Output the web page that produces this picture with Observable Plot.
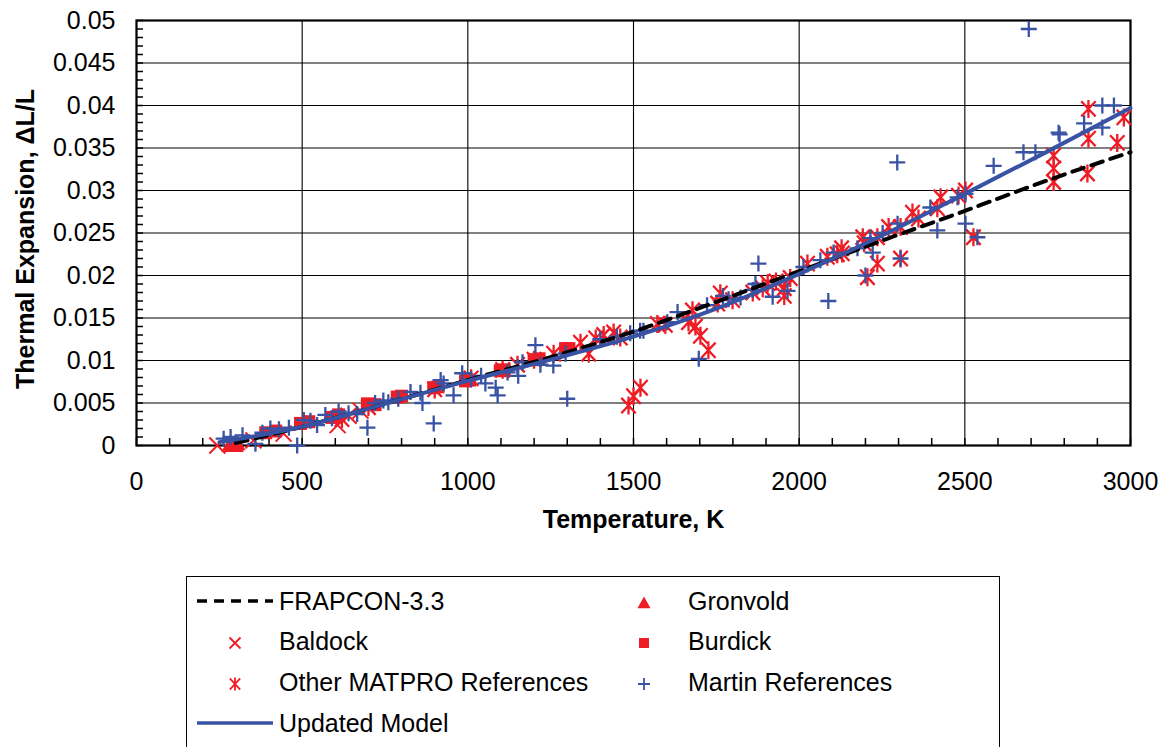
<!DOCTYPE html>
<html><head><meta charset="utf-8">
<script src="https://cdn.jsdelivr.net/npm/d3@7"></script>
<script src="https://cdn.jsdelivr.net/npm/@observablehq/plot@0.6"></script>
<style>
body{margin:0;background:#fff;}
#chart{position:relative;width:1169px;height:747px;overflow:hidden;background:#fff;}
#legend{position:absolute;left:186px;top:576px;width:814px;height:190px;border:1.5px solid #000;box-sizing:border-box;background:#fff;}
</style></head><body><div id="chart"><div id="plot"></div><div id="legend"></div></div>
<script>
// ---------- data ----------
const xTickValues = [0, 500, 1000, 1500, 2000, 2500, 3000];
const yTickValues = [0, 0.005, 0.01, 0.015, 0.02, 0.025, 0.03, 0.035, 0.04, 0.045, 0.05];
const xTitle = "Temperature, K";
const yTitle = "Thermal Expansion, \u0394L/L";

const seriesNames = ["FRAPCON-3.3", "Baldock", "Other MATPRO References", "Updated Model", "Gronvold", "Burdick", "Martin References"];

// FRAPCON-3.3 model [T, dL/L]
const frapcon = [[300,0.0003],[500,0.0022],[750,0.0049],[1000,0.0077],[1250,0.0104],[1500,0.0134],[1750,0.0169],[2000,0.0205],[2250,0.0241],[2500,0.0276],[2750,0.0312],[3000,0.0345]];
// Updated model [T, dL/L]
const updated = [[250,0.0004],[500,0.0022],[750,0.0049],[1000,0.0076],[1250,0.0101],[1500,0.0128],[1750,0.0161],[2000,0.0202],[2250,0.0247],[2500,0.0296],[2750,0.0346],[3000,0.0397]];

const baldock = [[244,0.0000],[353,0.0006],[444,0.0014],[607,0.0024],[640,0.0035],[676,0.0041]];

const otherMatpro = [[620,0.0031],[700,0.0045],[900,0.0066],[1010,0.0079],[1105,0.0089],[1150,0.0095],[1200,0.0101],[1259,0.0108],[1340,0.0121],[1365,0.0108],[1386,0.0126],[1410,0.0130],[1440,0.0133],[1460,0.0127],[1485,0.0047],[1500,0.0058],[1521,0.0068],
[1572,0.0143],[1596,0.0142],[1666,0.0145],[1687,0.0140],[1678,0.0159],[1702,0.0129],[1726,0.0112],[1754,0.0167],[1762,0.0179],[1799,0.0171],[1860,0.0180],[1890,0.0185],[1905,0.0191],[1930,0.0193],[1955,0.0185],[1955,0.0176],[1973,0.0197],[2025,0.0214],[2085,0.0222],[2115,0.0225],[2128,0.0232],[2130,0.0226],[2192,0.0245],[2196,0.0238],[2236,0.0214],[2236,0.0245],[2206,0.0198],[2270,0.0257],[2306,0.0257],[2306,0.0220],[2342,0.0274],[2360,0.0267],[2417,0.0279],[2427,0.0292],[2481,0.0294],[2502,0.0300],[2526,0.0245],
[2768,0.0341],[2768,0.0326],[2768,0.0310],[2870,0.0320],[2873,0.0396],[2873,0.0361],[2960,0.0356],[2980,0.0386]];

const gronvold = [[280,0.0000],[293,0.0001],[300,0.0000],[305,0.0002]];

const burdick = [[300,0.0002],[390,0.0015],[420,0.0017],[495,0.0026],[520,0.0028],[590,0.0033],[610,0.0036],[697,0.0049],[720,0.0048],[787,0.0057],[800,0.0058],[897,0.0068],[910,0.0069],[993,0.0076],[1005,0.0077],[1098,0.0088],[1110,0.0089],[1200,0.0101],[1215,0.0102],[1295,0.0114],[1305,0.0114]];

const martin = [[263,0.0008],[284,0.0010],[320,0.0012],[359,0.0002],[380,0.0015],[404,0.0020],[430,0.0019],[460,0.0021],[485,0.0000],[505,0.0030],[525,0.0029],[545,0.0024],[570,0.0036],[590,0.0032],[610,0.0040],[640,0.0038],[666,0.0037],[697,0.0021],[720,0.0050],[745,0.0053],[760,0.0051],[790,0.0055],[827,0.0063],[857,0.0062],[863,0.0050],[897,0.0026],[918,0.0077],[927,0.0073],[957,0.0059],[983,0.0085],[1010,0.0078],[1040,0.0082],[1053,0.0073],[1084,0.0068],[1090,0.0059],[1120,0.0086],[1150,0.0092],[1152,0.0082],[1165,0.0098],[1204,0.0118],[1219,0.0095],[1258,0.0094],[1295,0.0108],[1300,0.0055],[1400,0.0125],[1450,0.0128],[1490,0.0132],[1520,0.0135],
[1530,0.0135],[1602,0.0145],[1633,0.0157],[1697,0.0102],[1722,0.0165],[1770,0.0176],[1787,0.0172],[1823,0.0174],[1868,0.0190],[1860,0.0183],[1877,0.0214],[1920,0.0175],[1965,0.0182],[2013,0.0210],[2064,0.0218],[2088,0.0170],[2104,0.0227],[2176,0.0232],[2215,0.0244],[2222,0.0227],[2200,0.0200],[2252,0.0250],[2297,0.0261],[2306,0.0220],[2296,0.0333],[2396,0.0280],[2417,0.0253],[2478,0.0292],[2502,0.0296],[2502,0.0261],[2538,0.0245],[2587,0.0329],[2677,0.0345],[2713,0.0345],[2693,0.0490],[2783,0.0368],[2786,0.0366],[2860,0.0379],[2915,0.0400],[2950,0.0400],[2915,0.0374]];

// ---------- style ----------
const RED = "#ee1c25", BLUE = "#3953a4";
const FONT = '"Liberation Sans", Arial, sans-serif';
const FS = 25;

// custom symbols (r = half-size)
const R = s => Math.sqrt(s / Math.PI);
const symPlus = {draw(c, s){const r=R(s); c.moveTo(-r,0); c.lineTo(r,0); c.moveTo(0,-r); c.lineTo(0,r);}};
const symTimes = {draw(c, s){const r=R(s); c.moveTo(-r,-r); c.lineTo(r,r); c.moveTo(-r,r); c.lineTo(r,-r);}};
const symAst = {draw(c, s){const r=R(s), a=r*0.8; c.moveTo(0,-r); c.lineTo(0,r); c.moveTo(-a,-r*0.85); c.lineTo(a,r*0.85); c.moveTo(-a,r*0.85); c.lineTo(a,-r*0.85);}};
const symSquare = {draw(c, s){const r=R(s); c.rect(-r,-r,2*r,2*r);}};
const symTri = {draw(c, s){const r=R(s); c.moveTo(0,-r); c.lineTo(r,r*0.8); c.lineTo(-r,r*0.8); c.closePath();}};

const W = 1169, H = 560, ML = 136, MR = 39, MT = 20, MB = H - 445;
const innerW = W - ML - MR, innerH = H - MT - MB;
const xMinor = d3.range(0, 3001, 100);
const yMinor = d3.range(0, 51).map(i => i / 1000);

const plot = Plot.plot({
  width: W, height: H, marginLeft: ML, marginRight: MR, marginTop: MT, marginBottom: MB,
  style: {fontFamily: FONT, fontSize: FS + "px", color: "#000", background: "#fff", overflow: "visible"},
  x: {domain: [0, 3000], label: null},
  y: {domain: [0, 0.05], label: null},
  marks: [
    Plot.gridX(xTickValues, {stroke: "#000", strokeOpacity: 1, strokeWidth: 1.1}),
    Plot.gridY(yTickValues, {stroke: "#000", strokeOpacity: 1, strokeWidth: 1.1}),
    Plot.ruleX(xMinor, {x: d => d, insetTop: innerH - 7, stroke: "#000", strokeWidth: 1.5}),
    Plot.ruleY(yMinor, {y: d => d, insetRight: innerW - 7, stroke: "#000", strokeWidth: 1.5}),
    Plot.frame({stroke: "#000", strokeWidth: 2.2}),
    Plot.axisX(xTickValues, {tickSize: 0, tickPadding: 27, tickFormat: d => String(d), label: null, fontSize: FS}),
    Plot.axisY(yTickValues, {tickSize: 0, tickPadding: 21, tickFormat: d => String(+d.toFixed(3)), label: null, fontSize: FS}),
    Plot.dot(baldock, {x: d => d[0], y: d => d[1], symbol: symTimes, r: 8, stroke: RED, fill: "none", strokeWidth: 2}),
    Plot.dot(otherMatpro, {x: d => d[0], y: d => d[1], symbol: symAst, r: 9, stroke: RED, fill: "none", strokeWidth: 2.3}),
    Plot.dot(gronvold, {x: d => d[0], y: d => d[1], symbol: symTri, r: 8, fill: RED, stroke: "none"}),
    Plot.dot(burdick, {x: d => d[0], y: d => d[1], symbol: symSquare, r: 6.5, fill: RED, stroke: "none"}),
    Plot.dot(martin, {x: d => d[0], y: d => d[1], symbol: symPlus, r: 8, stroke: BLUE, fill: "none", strokeWidth: 2.3}),
    Plot.line(frapcon, {x: d => d[0], y: d => d[1], stroke: "#000", strokeWidth: 4, strokeDasharray: "12,8", curve: "monotone-x"}),
    Plot.line(updated, {x: d => d[0], y: d => d[1], stroke: BLUE, strokeWidth: 4, curve: "monotone-x"}),
    Plot.text([xTitle], {frameAnchor: "bottom", dy: 82, fontWeight: "bold", fontSize: FS, text: d => d}),
    Plot.text([yTitle], {frameAnchor: "left", dx: -111, dy: 6, rotate: -90, textAnchor: "middle", fontWeight: "bold", fontSize: FS, text: d => d})
  ]
});
document.getElementById("plot").appendChild(plot);

// ---------- legend ----------
const lg = d3.select("#legend").append("svg").attr("width", 812).attr("height", 190)
  .style("font-family", FONT).style("font-size", FS + "px");
const rows = [24, 64, 105, 146];
const items = [
  {name: seriesNames[0], col: 0, row: 0, kind: "dash"},
  {name: seriesNames[1], col: 0, row: 1, kind: "sym", sym: symTimes, r: 5.5, stroke: RED},
  {name: seriesNames[2], col: 0, row: 2, kind: "sym", sym: symAst, r: 6.5, stroke: RED},
  {name: seriesNames[3], col: 0, row: 3, kind: "line"},
  {name: seriesNames[4], col: 1, row: 0, kind: "sym", sym: symTri, r: 6.5, fill: RED},
  {name: seriesNames[5], col: 1, row: 1, kind: "sym", sym: symSquare, r: 5, fill: RED},
  {name: seriesNames[6], col: 1, row: 2, kind: "sym", sym: symPlus, r: 6, stroke: BLUE}
];
for (const it of items) {
  const y = rows[it.row];
  const mx = it.col === 0 ? 48 : 457;
  const tx = it.col === 0 ? 92 : 501;
  if (it.kind === "dash") lg.append("line").attr("x1", 10).attr("x2", 86).attr("y1", y).attr("y2", y).attr("stroke", "#000").attr("stroke-width", 3.5).attr("stroke-dasharray", "10,7");
  else if (it.kind === "line") lg.append("line").attr("x1", 10).attr("x2", 86).attr("y1", y).attr("y2", y).attr("stroke", BLUE).attr("stroke-width", 3.5);
  else lg.append("path").attr("transform", `translate(${mx},${y + 2})`)
    .attr("d", d3.symbol(it.sym, it.r * it.r * Math.PI)())
    .attr("fill", it.fill || "none").attr("stroke", it.stroke || "none").attr("stroke-width", 1.8);
  lg.append("text").attr("x", tx).attr("y", y).attr("dy", "0.35em").text(it.name);
}
</script></body></html>
